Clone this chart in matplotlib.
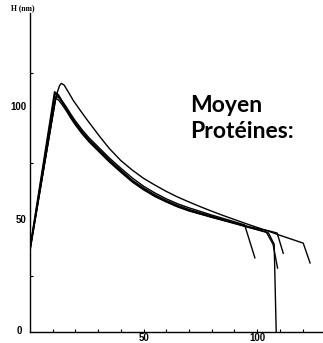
import matplotlib
matplotlib.use("Agg")
import matplotlib.pyplot as plt

# Height profiles H (nm) against position, one list pair per trace
x_upper = [0, 11, 12, 13, 13.8, 15, 17, 19, 22, 25, 28, 31, 35, 40, 45, 50, 55, 60, 65,
           70, 75, 80, 85, 90, 95, 100, 105, 110, 115, 120.3, 123.3]
h_upper = [37, 102, 106.5, 109.5, 110.5, 109.8, 106.5, 103, 98.7, 94.5, 90.5, 86.5, 81.5,
           76.2, 72, 68.3, 65.3, 62.5, 60, 57.8, 55.7, 53.7, 51.8, 50, 48.2, 46.5, 44.8,
           43, 41.3, 39.5, 30.7]

x_a = [0, 10.8, 12.5, 14, 16, 18, 20, 23, 26, 30, 35, 40, 45, 50, 55, 60, 65, 70, 75,
       80, 85, 90, 94.5, 99]
h_a = [37.5, 106.8, 105.5, 103, 100, 96.8, 93.8, 89.8, 86.3, 82.3, 77.3, 72.8, 68.5,
       64.8, 61.8, 59.2, 57, 55.2, 53.6, 52, 50.5, 49, 47.6, 33]

x_b1 = [0, 11, 12.5, 14, 16, 18, 20, 23, 26, 30, 35, 40, 45, 50, 55, 60, 65, 70, 75,
        80, 85, 90, 95, 100, 105, 107.5, 108.4]
h_b1 = [37, 106, 105, 102.5, 99.3, 96, 93, 89, 85.5, 81.5, 76.5, 72, 67.5, 64, 61,
        58.5, 56.3, 54.5, 53, 51.5, 50, 48.5, 47, 45.5, 44, 39, 0]

x_b2 = [0, 11.5, 13, 14.5, 16, 18, 20, 23, 26, 30, 35, 40, 45, 50, 55, 60, 65, 70, 75,
        80, 85, 90, 95, 100, 104, 107, 109]
h_b2 = [36.5, 105, 103.8, 101.5, 99, 95.5, 92.5, 88.5, 85, 81, 76, 71.5, 67, 63.5,
        60.5, 58, 55.8, 54, 52.5, 51, 49.6, 48.2, 46.8, 45.5, 44.5, 39, 28.4]

x_c = [0, 11.2, 12.7, 14.3, 16, 18, 20, 23, 26, 30, 35, 40, 45, 50, 55, 60, 65, 70, 75,
       80, 85, 90, 95, 100, 105, 108.8, 111.5]
h_c = [36, 104, 103, 100.8, 98.3, 95, 92, 88, 84.5, 80.5, 75.5, 71, 66.7, 63.2, 60.2,
       57.8, 55.6, 53.8, 52.4, 51, 49.7, 48.4, 47.2, 46, 45, 44, 35]

traces = [(x_upper, h_upper), (x_a, h_a), (x_b1, h_b1), (x_b2, h_b2), (x_c, h_c)]

x_ticks = [10, 20, 30, 40, 50, 60, 70, 80, 90, 100, 110, 120]
y_ticks = [25, 75, 115]
x_labels = {50: "50", 100: "100"}
y_labels = {50: "50", 100: "100"}

fig = plt.figure(figsize=(3.23, 3.43), dpi=100)
ax = fig.add_axes([30 / 323, 11 / 343, 293 / 323, 319 / 343])

for xs, hs in traces:
    ax.plot(xs, hs, color="black", lw=1.0, solid_joinstyle="round")

ax.set_xlim(0, 129)
ax.set_ylim(0, 141.8)
for side in ("top", "right"):
    ax.spines[side].set_visible(False)
for side in ("left", "bottom"):
    ax.spines[side].set_linewidth(1.0)

ax.set_xticks(x_ticks)
ax.set_yticks(y_ticks)
ax.set_xticklabels([])
ax.set_yticklabels([])
ax.tick_params(direction="in", length=2.5, width=0.8)

lab_font = dict(family="Liberation Sans", weight="bold", size=7.0)
for v, s in x_labels.items():
    ax.text(v, -2.6, s, ha="center", va="center", clip_on=False, **lab_font)
for v, s in y_labels.items():
    ax.text(-1.5, v, s, ha="right", va="center", **lab_font)
ax.text(-4.5, 0.5, "0", ha="center", va="center", **lab_font)

fig.text(23 / 323, 1 - 8 / 343, "H (nm)", ha="center", va="center",
         family="Liberation Serif", weight="bold", size=5.5)

fig.text(190 / 323, 1 - 112 / 343, "Moyen", ha="left", va="baseline",
         family="Lato", weight="bold", size=16.5)
fig.text(190 / 323, 1 - 138 / 343, "Protéines:", ha="left", va="baseline",
         family="Lato", weight="bold", size=16.5)

fig.savefig("out.png", dpi=100)
